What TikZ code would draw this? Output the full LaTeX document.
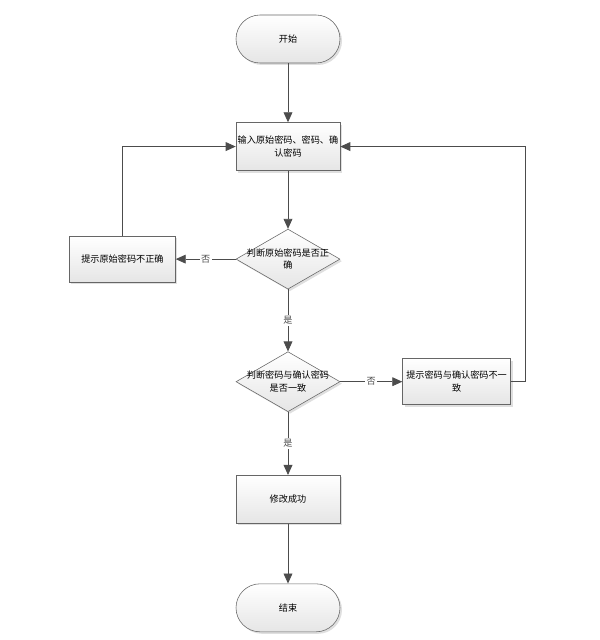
\documentclass[tikz,border=0pt]{standalone}
\usepackage{fontspec}
\newfontfamily\cjk{Noto Sans CJK SC}
\usetikzlibrary{arrows.meta,positioning,shapes.geometric,shadows}
\colorlet{lnclr}{black!70}
\tikzset{
  blk/.style={draw=black!60,rectangle,minimum width=2.6cm,minimum height=1.2cm,align=center,
    inner sep=1pt,top color=white,bottom color=black!10,
    drop shadow={opacity=0.25,shadow xshift=0.05cm,shadow yshift=-0.05cm},
    font=\cjk\fontsize{6.5}{9}\selectfont},
  termblk/.style={blk,rounded corners=0.6cm},
  hintblk/.style={blk,minimum width=2.65cm,minimum height=1.15cm},
  decblk/.style={blk,diamond,aspect=1.68,minimum width=2.6cm,minimum height=1.5cm,
    inner xsep=-0.25cm,inner ysep=0pt},
  arr/.style={-{Triangle[length=0.25cm,width=0.22cm]},lnclr,line width=0.6pt},
  lbl/.style={fill=white,inner sep=1pt,font=\cjk\fontsize{6.5}{8}\selectfont}
}
\begin{document}
\begin{tikzpicture}[node distance=1.5cm and 1.5cm]
  \useasboundingbox (0,0) rectangle (14.975,-16);
  \node[termblk] (start) at (7.2,-0.975) {开始};
  \node[blk, below=1.475cm of start] (input) {输入原始密码、密码、确\\认密码};
  \node[decblk, below=1.45cm of input] (chkold) {判断原始密码是否正\\确};
  \node[hintblk, left=1.5cm of chkold] (oldbad) {提示原始密码不正确};
  \node[decblk, below=1.55cm of chkold] (chkeq) {判断密码与确认密码\\是否一致};
  \node[hintblk, right=1.55cm of chkeq, minimum width=2.7cm] (neqbad) {提示密码与确认密码不一\\致};
  \node[blk, below=1.575cm of chkeq] (done) {修改成功};
  \node[termblk, below=1.5cm of done] (stop) {结束};

  \draw[arr] (start)--(input);
  \draw[arr] (input)--(chkold);
  \draw[arr] (chkold)--(oldbad) node[lbl,midway]{否};
  \draw[arr] (oldbad.north) |- (input.west);
  \draw[arr] (chkold)--(chkeq) node[lbl,midway]{是};
  \draw[arr] (chkeq)--(neqbad) node[lbl,midway]{否};
  \draw[arr] (neqbad.east) -- ++(0.375,0) |- (input.east);
  \draw[arr] (chkeq)--(done) node[lbl,midway]{是};
  \draw[arr] (done)--(stop);
\end{tikzpicture}
\end{document}
